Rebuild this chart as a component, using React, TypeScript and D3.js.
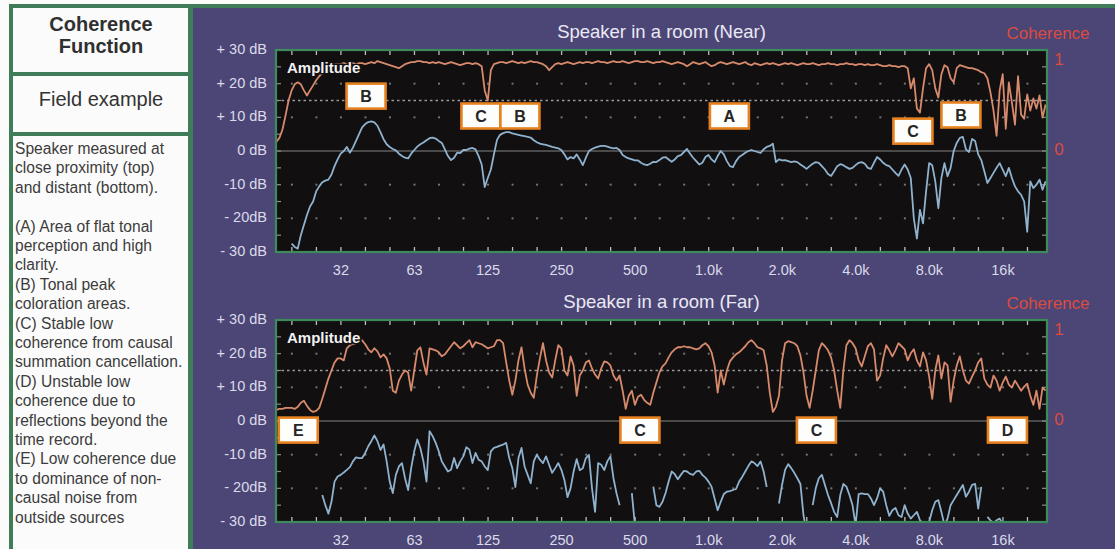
import React from "react";
import * as d3 from "d3";

const WIDTH = 1115;
const HEIGHT = 549;

// Analyzer bins: 1/24-octave resolution starting at 17 Hz
const BIN_START_HZ = 17;
const BINS_PER_OCTAVE = 24;

// Near measurement — coherence (0..1)
const nearCoherence = [
  0.09, 0.13, 0.21, 0.35, 0.50, 0.60, 0.66, 0.68, 0.66, 0.60,
  0.55, 0.60, 0.65, 0.70, 0.74, 0.77, 0.80, 0.83, 0.85, 0.86,
  0.86, 0.86, 0.87, 0.86, 0.87, 0.87, 0.86, 0.87, 0.87, 0.86,
  0.87, 0.88, 0.87, 0.89, 0.88, 0.87, 0.86, 0.85, 0.84, 0.83,
  0.82, 0.84, 0.86, 0.87, 0.88, 0.88, 0.89, 0.89, 0.88, 0.88,
  0.87, 0.88, 0.87, 0.88, 0.87, 0.86, 0.87, 0.88, 0.87, 0.86,
  0.85, 0.86, 0.87, 0.87, 0.86, 0.87, 0.86, 0.84, 0.60, 0.50,
  0.80, 0.86, 0.87, 0.88, 0.88, 0.87, 0.88, 0.89, 0.88, 0.87,
  0.88, 0.87, 0.88, 0.89, 0.88, 0.88, 0.87, 0.86, 0.84, 0.80,
  0.83, 0.86, 0.87, 0.86, 0.87, 0.88, 0.87, 0.86, 0.87, 0.88,
  0.87, 0.88, 0.88, 0.87, 0.88, 0.89, 0.88, 0.88, 0.87, 0.88,
  0.89, 0.88, 0.88, 0.89, 0.88, 0.87, 0.88, 0.89, 0.89, 0.88,
  0.88, 0.89, 0.88, 0.87, 0.88, 0.88, 0.89, 0.88, 0.87, 0.86,
  0.87, 0.88, 0.87, 0.86, 0.84, 0.86, 0.88, 0.87, 0.86, 0.87,
  0.88, 0.86, 0.84, 0.85, 0.87, 0.88, 0.87, 0.86, 0.87, 0.88,
  0.87, 0.86, 0.87, 0.88, 0.86, 0.85, 0.87, 0.86, 0.85, 0.86,
  0.87, 0.86, 0.87, 0.86, 0.85, 0.86, 0.87, 0.86, 0.87, 0.86,
  0.85, 0.86, 0.87, 0.86, 0.86, 0.87, 0.86, 0.85, 0.86, 0.86,
  0.87, 0.86, 0.86, 0.85, 0.86, 0.86, 0.87, 0.86, 0.86, 0.85,
  0.86, 0.86, 0.85, 0.86, 0.85, 0.85, 0.86, 0.85, 0.84, 0.84,
  0.85, 0.84, 0.84, 0.83, 0.84, 0.84, 0.82, 0.62, 0.72, 0.42,
  0.38, 0.62, 0.82, 0.86, 0.80, 0.62, 0.53, 0.76, 0.85, 0.83,
  0.72, 0.68, 0.82, 0.85, 0.84, 0.83, 0.82, 0.82, 0.81, 0.80,
  0.78, 0.77, 0.72, 0.58, 0.40, 0.15, 0.60, 0.76, 0.22, 0.68,
  0.48, 0.26, 0.74, 0.36, 0.32, 0.56, 0.40, 0.52, 0.42, 0.55,
  0.33, 0.46,
];

// Near measurement — amplitude (dB)
const nearAmplitude: (number | null)[] = [
  null, null, null, null, null, -27.5, -28.5, -29, -25, -22,
  -19, -16.5, -15, -12, -10.5, -9.3, -8.8, -8.5, -7, -4.5,
  -2.5, -0.8, 0, 1.2, -0.5, 1, 3, 5, 7, 8,
  8.6, 8.8, 8.5, 7.5, 5.5, 3.5, 2, 1.2, 0.6, 0.2,
  -0.8, -1.5, -2, -2.2, -0.8, 0.3, 1.3, 2, 2.5, 3.2,
  3.8, 4, 3.7, 3, 2.4, 0.5, -1.5, -2.7, -2, -0.5,
  -0.6, 0.3, 0.3, 0.7, 0.9, 0.5, -1.5, -4, -10.7, -8,
  -5.5, -1, 3.3, 4.8, 5.3, 5.6, 5.6, 5.2, 5, 4.8,
  4.6, 4.4, 4.2, 4, 3.2, 2.6, 2.2, 2, 1.8, 1.5,
  1.2, 1, 0.8, 0.3, -1, -2.5, -1.8, -2.2, -1, -2.5,
  -4.2, -2, 0, 0.6, 1, 1.3, 1.5, 1.5, 1.3, 1,
  0.8, 0.9, 0.3, -1.2, -1.8, -2.2, -2.5, -2.8, -2.8, -3.5,
  -4, -4.2, -3.8, -3.2, -3.3, -2.7, -2, -1.8, -2.5, -3.2,
  -2.5, -1.5, -1.2, -0.3, 0.6, -0.8, -2, -3, -4, -3.5,
  -1.8, -1.2, -2.5, -3.3, -1.5, 0, -1, -3, -4.5, -4.8,
  -3, -1.8, -1.2, -0.5, 0, 0.3, 0, -0.3, -0.6, 0.5,
  1.2, 1.5, 2.2, -3.3, -2.5, -2.8, -2.7, -3, -3.3, -3.1,
  -3.3, -4, -4.6, -5.3, -4.5, -3.8, -3.3, -3.5, -4.5, -5.5,
  -6.8, -7.4, -6, -4.5, -3.9, -4.2, -4.8, -5.3, -5, -4.2,
  -3.5, -3.3, -3.8, -5, -5.3, -3.5, -1.8, -2.5, -3.5, -4.2,
  -4.5, -5.5, -6.5, -7.4, -5.5, -4, -5.5, -8, -20, -26,
  -17.5, -21.5, -12, -3.6, -4.2, -9, -17, -8, -3.6, -7.5,
  -5, 0, 2.4, 3.9, 4.2, 0.5, -0.3, 3.6, 3, -1,
  -2.7, -6, -9.5, -8, -6.5, -5, -3.6, -5.5, -7.5, -5,
  -8, -10.5, -12, -13, -15, -24, -9, -11, -10, -8.5,
  -11.5, -9,
];

// Far measurement — coherence (0..1)
const farCoherence = [
  0.11, 0.12, 0.12, 0.13, 0.13, 0.13, 0.12, 0.14, 0.18, 0.20,
  0.15, 0.11, 0.09, 0.10, 0.13, 0.22, 0.32, 0.42, 0.50, 0.58,
  0.62, 0.62, 0.60, 0.72, 0.75, 0.76, 0.77, 0.79, 0.80, 0.76,
  0.71, 0.68, 0.72, 0.69, 0.63, 0.66, 0.62, 0.52, 0.30, 0.28,
  0.40, 0.46, 0.50, 0.48, 0.30, 0.50, 0.70, 0.73, 0.58, 0.46,
  0.72, 0.71, 0.70, 0.68, 0.64, 0.66, 0.70, 0.74, 0.78, 0.75,
  0.72, 0.74, 0.77, 0.80, 0.73, 0.78, 0.77, 0.76, 0.74, 0.72,
  0.73, 0.74, 0.80, 0.80, 0.77, 0.58, 0.40, 0.26, 0.40, 0.60,
  0.73, 0.52, 0.36, 0.28, 0.23, 0.45, 0.62, 0.77, 0.60, 0.48,
  0.43, 0.60, 0.75, 0.72, 0.50, 0.45, 0.64, 0.55, 0.25, 0.45,
  0.50, 0.58, 0.60, 0.52, 0.46, 0.42, 0.52, 0.59, 0.58, 0.55,
  0.45, 0.40, 0.45, 0.30, 0.12, 0.25, 0.30, 0.16, 0.24, 0.26,
  0.21, 0.18, 0.16, 0.28, 0.38, 0.48, 0.54, 0.57, 0.63, 0.68,
  0.71, 0.73, 0.73, 0.74, 0.73, 0.73, 0.72, 0.71, 0.72, 0.75,
  0.77, 0.74, 0.68, 0.55, 0.28, 0.50, 0.36, 0.50, 0.59, 0.63,
  0.66, 0.68, 0.71, 0.74, 0.78, 0.80, 0.77, 0.73, 0.72, 0.70,
  0.55, 0.28, 0.09, 0.14, 0.25, 0.60, 0.77, 0.79, 0.78, 0.77,
  0.74, 0.65, 0.48, 0.25, 0.13, 0.30, 0.50, 0.70, 0.77, 0.74,
  0.70, 0.63, 0.50, 0.30, 0.13, 0.50, 0.75, 0.80, 0.77, 0.72,
  0.60, 0.54, 0.64, 0.74, 0.77, 0.71, 0.40, 0.45, 0.62, 0.75,
  0.70, 0.64, 0.70, 0.77, 0.74, 0.71, 0.60, 0.67, 0.71, 0.60,
  0.54, 0.68, 0.60, 0.44, 0.22, 0.50, 0.65, 0.42, 0.58, 0.55,
  0.19, 0.40, 0.55, 0.64, 0.50, 0.40, 0.37, 0.44, 0.50, 0.58,
  0.62, 0.42, 0.36, 0.33, 0.45, 0.40, 0.30, 0.38, 0.44, 0.36,
  0.33, 0.40, 0.35, 0.30, 0.34, 0.37, 0.25, 0.16, 0.30, 0.12,
  0.33, 0.30,
];

// Far measurement — amplitude (dB); gaps where the analyzer blanks the trace
const farAmplitude: (number | null)[] = [
  null, null, null, null, null, null, null, null, null, null,
  null, null, null, null, null, -22, -25, -27.5, -24, -18,
  -16.5, -16, -15.3, -14.5, -13.7, -12, -10.8, -11, -11, -9.5,
  -7.5, -6, -4.3, -6, -8.6, -7, -12, -18, -21.4, -16,
  -13.5, -12.5, -17, -20.5, -14, -9, -5.5, -8, -12, -18,
  -3, -4.5, -6.5, -9, -12, -13.5, -15, -14.5, -11, -14,
  -12, -10.5, -7.8, -8.5, -12.5, -9.5, -11.5, -12, -13.5, -14.6,
  -9, -8, -7.7, -7.3, -7, -6.5, -11, -14, -19.6, -11,
  -8, -13.5, -16, -18.5, -12, -10, -11.5, -12.5, -10.5, -13,
  -15.4, -14, -12.5, -14.5, -17.5, -22.6, -20, -15, -11.3, -14.6,
  -14, -11, -10.1, -20, -27, -12.5, -13, -14.6, -12, -10.5,
  -17, -21.5, -25, null, null, null, -21.4, -31, null, null,
  null, null, null, -19.5, -25, -25.5, -24, -21.4, -18, -15,
  -15.8, -17.3, -16, -14.8, -15, -15.7, -16, -15, -14.8, -16,
  -16.8, -18, -19.5, -23, -26.5, -24, -21.7, -21, -20.8, -20.5,
  -20.2, -18, -16.6, -15, -13.4, -12, -12.5, -13.4, -12, -15,
  -19.6, null, null, null, -24.5, -19, -14.5, -12.8, -14, -15.4,
  -17, -18.7, -28, -33, null, -25, -20, -17, -16, -19,
  -22, -24.4, -27, -28.5, -22, -18.7, -19.5, -22, -25, -31,
  -21.7, -21.5, -21.7, -21.7, -23, -25, -23, -20, -21, -25,
  -28.2, -26.5, -25.8, -28, -28.5, -25, -27.5, -29, -28, -27,
  -29.5, -30.3, -30.3, -30, -26.5, -24, -23.5, -27, -31, -29,
  -25, -23.5, -22, -20.5, -19, -22.5, -21, -19, -18.7, -26,
  -19.6, null, -28.5, -29.5, -30.3, -29.5, -29, -30.6, null, null,
  null, null, null, null, null, null, null, null, null, null,
  null, null,
];

const freqTickValues = [31.25, 62.5, 125, 250, 500, 1000, 2000, 4000, 8000, 16000];
const freqTickLabels = ["32", "63", "125", "250", "500", "1.0k", "2.0k", "4.0k", "8.0k", "16k"];
const levelTickValues = [30, 20, 10, 0, -10, -20, -30];
const levelTickLabels = ["+ 30 dB", "+ 20 dB", "+ 10 dB", "0 dB", "-10 dB", "- 20dB", "- 30 dB"];

// Annotation anchors (frequency, level)
const nearMarkerLabels = ["B", "C", "B", "A", "C", "B"];
const nearMarkerHz = [39.6, 116.9, 168.8, 1215, 6850, 10766];
const nearMarkerDb = [16.3, 10.4, 10.4, 10.4, 5.9, 10.7];
const farMarkerLabels = ["E", "C", "C", "D"];
const farMarkerHz = [20.9, 523, 2759, 16690];
const farMarkerDb = [-2.7, -2.7, -2.7, -2.7];

const noteLines = [
  "Speaker measured at",
  "close proximity (top)",
  "and distant (bottom).",
  "",
  "(A) Area of flat tonal",
  "perception and high",
  "clarity.",
  "(B) Tonal peak",
  "coloration areas.",
  "(C) Stable low",
  "coherence from causal",
  "summation cancellation.",
  "(D) Unstable low",
  "coherence due to",
  "reflections beyond the",
  "time record.",
  "(E) Low coherence due",
  "to dominance of non-",
  "causal noise from",
  "outside sources",
];

const SANS = "'Liberation Sans', Arial, Helvetica, sans-serif";
const GREEN = "#3f7c58";
const PURPLE = "#4b4676";
const PLOT_BG = "#110f10";
const COH_COLOR = "#d88a6c";
const AMP_COLOR = "#8fb2cf";
const RED = "#dc4b3f";
const AXIS_TEXT = "#dcdaea";

const PLOT_LEFT = 276;
const PLOT_RIGHT = 1047;
const PLOT_H = 202;

const xScale = d3.scaleLog().domain([16.95, 24230]).range([PLOT_LEFT, PLOT_RIGHT]);
const thirdOctaves = d3
  .range(-3, 31)
  .map((k) => 31.25 * Math.pow(2, k / 3))
  .filter((f) => f > 17.5 && f < 24000);

type PanelProps = {
  id: string;
  top: number;
  title: string;
  coherence: (number | null)[];
  amplitude: (number | null)[];
  markerLabels: string[];
  markerHz: number[];
  markerDb: number[];
};

function Panel({ id, top, title, coherence, amplitude, markerLabels, markerHz, markerDb }: PanelProps) {
  const bottom = top + PLOT_H;
  const y = d3.scaleLinear().domain([-30, 30]).range([bottom, top]);
  const yc = d3.scaleLinear().domain([0, 1]).range([y(0), y(30)]);
  const binHz = (i: number) => BIN_START_HZ * Math.pow(2, i / BINS_PER_OCTAVE);

  const cohPath = d3
    .line<number | null>()
    .defined((v) => v != null)
    .x((_, i) => xScale(binHz(i)))
    .y((v) => yc(v as number))(coherence);
  const ampPath = d3
    .line<number | null>()
    .defined((v) => v != null)
    .x((_, i) => xScale(binHz(i)))
    .y((v) => y(v as number))(amplitude);

  const fiveDb = d3.range(-25, 30, 5);
  const dotRows = [20, 10, -10, -20];
  const cx = (PLOT_LEFT + PLOT_RIGHT) / 2;

  return (
    <g>
      <defs>
        <clipPath id={`clip-${id}`}>
          <rect x={PLOT_LEFT} y={top} width={PLOT_RIGHT - PLOT_LEFT} height={PLOT_H} />
        </clipPath>
      </defs>
      <text x={cx} y={top - 12} textAnchor="middle" fontFamily={SANS} fontSize={18.5} fill="#ebe9f4">
        {title}
      </text>
      <text x={1048} y={top - 11} textAnchor="middle" fontFamily={SANS} fontSize={17} fill={RED}>
        Coherence
      </text>
      <text x={1059} y={yc(1) + 15} textAnchor="middle" fontFamily={SANS} fontSize={17} fill={RED}>
        1
      </text>
      <text x={1059} y={yc(0) + 4} textAnchor="middle" fontFamily={SANS} fontSize={17} fill={RED}>
        0
      </text>

      <rect x={PLOT_LEFT} y={top} width={PLOT_RIGHT - PLOT_LEFT} height={PLOT_H} fill={PLOT_BG} />

      {/* grid: sparse dot rows, 50 % coherence dashes, 0 dB reference */}
      {dotRows.map((db) =>
        thirdOctaves.map((f) => (
          <rect key={`d${db}-${f}`} x={xScale(f) - 1} y={y(db) - 1} width={2} height={2} fill="#747474" />
        ))
      )}
      <line x1={PLOT_LEFT} x2={PLOT_RIGHT} y1={yc(0.5)} y2={yc(0.5)} stroke="#9a9a9a" strokeWidth={1.4} strokeDasharray="2.5 3" />
      <line x1={PLOT_LEFT} x2={PLOT_RIGHT} y1={y(0)} y2={y(0)} stroke="#868686" strokeWidth={1.2} />

      {/* edge ticks */}
      {thirdOctaves.map((f) => (
        <g key={`t${f}`}>
          <line x1={xScale(f)} x2={xScale(f)} y1={top} y2={top + 5} stroke="#bdbdbd" strokeWidth={1.3} />
          <line x1={xScale(f)} x2={xScale(f)} y1={bottom} y2={bottom - 5} stroke="#bdbdbd" strokeWidth={1.3} />
        </g>
      ))}
      {fiveDb.map((db) => (
        <g key={`l${db}`}>
          <line x1={PLOT_LEFT} x2={PLOT_LEFT + 5} y1={y(db)} y2={y(db)} stroke="#8d8d8d" strokeWidth={1.2} />
          <line x1={PLOT_RIGHT} x2={PLOT_RIGHT - 5} y1={y(db)} y2={y(db)} stroke="#8d8d8d" strokeWidth={1.2} />
        </g>
      ))}

      <g clipPath={`url(#clip-${id})`}>
        <path d={cohPath || ""} fill="none" stroke={COH_COLOR} strokeWidth={1.8} strokeLinejoin="round" />
        <path d={ampPath || ""} fill="none" stroke={AMP_COLOR} strokeWidth={1.8} strokeLinejoin="round" />
      </g>

      <text
        x={PLOT_LEFT + 11}
        y={top + 23}
        fontFamily={SANS}
        fontWeight="bold"
        fontSize={15}
        fill="#f2f2f2"
        stroke={PLOT_BG}
        strokeWidth={3}
        paintOrder="stroke"
      >
        Amplitude
      </text>

      {markerLabels.map((label, i) => {
        const mx = xScale(markerHz[i]);
        const my = y(markerDb[i]);
        return (
          <g key={`m${i}`}>
            <rect x={mx - 19.5} y={my - 12.5} width={39} height={25} fill="#fdfdfb" stroke="#e7811f" strokeWidth={2.6} />
            <text x={mx} y={my + 6} textAnchor="middle" fontFamily={SANS} fontWeight="bold" fontSize={16} fill="#252525">
              {label}
            </text>
          </g>
        );
      })}

      <rect
        x={PLOT_LEFT}
        y={top}
        width={PLOT_RIGHT - PLOT_LEFT}
        height={PLOT_H}
        fill="none"
        stroke="#3d8b5a"
        strokeWidth={2.2}
      />

      {levelTickValues.map((v, i) => (
        <text key={`yl${v}`} x={267} y={y(v) + 4} textAnchor="end" fontFamily={SANS} fontSize={14.5} fill={AXIS_TEXT}>
          {levelTickLabels[i]}
        </text>
      ))}
      {freqTickValues.map((f, i) => (
        <text key={`xl${f}`} x={xScale(f)} y={bottom + 23} textAnchor="middle" fontFamily={SANS} fontSize={14.5} fill={AXIS_TEXT}>
          {freqTickLabels[i]}
        </text>
      ))}
    </g>
  );
}

export default function App() {
  return (
    <svg
      width={WIDTH}
      height={HEIGHT}
      viewBox={`0 0 ${WIDTH} ${HEIGHT}`}
      style={{ position: "absolute", left: 0, top: 0, display: "block" }}
    >
      <rect x={0} y={0} width={WIDTH} height={HEIGHT} fill="#fbfbfb" />
      {/* chart background */}
      <rect x={192} y={6} width={WIDTH - 192} height={HEIGHT - 6} fill={PURPLE} />

      {/* left caption panel */}
      <rect x={9} y={4} width={WIDTH - 9} height={4} fill={GREEN} />
      <rect x={9} y={4} width={4} height={HEIGHT - 4} fill={GREEN} />
      <rect x={188} y={4} width={5} height={HEIGHT - 4} fill={GREEN} />
      <rect x={9} y={72} width={184} height={4} fill={GREEN} />
      <rect x={9} y={132} width={184} height={4} fill={GREEN} />

      <text x={101} y={31} textAnchor="middle" fontFamily={SANS} fontWeight="bold" fontSize={20} fill="#303030">
        Coherence
      </text>
      <text x={101} y={53} textAnchor="middle" fontFamily={SANS} fontWeight="bold" fontSize={20} fill="#303030">
        Function
      </text>
      <text x={101} y={106} textAnchor="middle" fontFamily={SANS} fontSize={20} fill="#333">
        Field example
      </text>
      {noteLines.map((line, k) => (
        <text key={`n${k}`} x={15} y={154 + k * 19.4} fontFamily={SANS} fontSize={15.6} fill="#3c3c3c">
          {line}
        </text>
      ))}

      <Panel
        id="near"
        top={50}
        title="Speaker in a room (Near)"
        coherence={nearCoherence}
        amplitude={nearAmplitude}
        markerLabels={nearMarkerLabels}
        markerHz={nearMarkerHz}
        markerDb={nearMarkerDb}
      />
      <Panel
        id="far"
        top={320}
        title="Speaker in a room (Far)"
        coherence={farCoherence}
        amplitude={farAmplitude}
        markerLabels={farMarkerLabels}
        markerHz={farMarkerHz}
        markerDb={farMarkerDb}
      />
    </svg>
  );
}
